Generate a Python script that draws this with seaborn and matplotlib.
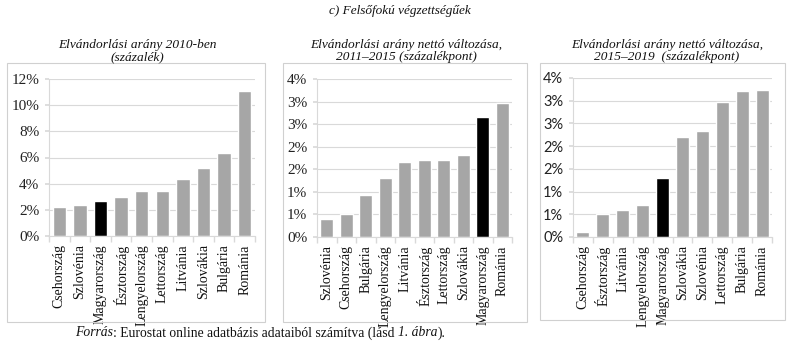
import math
import matplotlib
matplotlib.use("Agg")
import matplotlib.pyplot as plt
import seaborn as sns
import pandas as pd
from matplotlib.patches import Rectangle
from matplotlib.ticker import FuncFormatter, FixedLocator

sns.set_theme(style="white")
plt.rcParams['font.family'] = ['Liberation Serif', 'DejaVu Serif']

# ---- data ----
countries1 = ["Csehország", "Szlovénia", "Magyarország", "Észtország", "Lengyelország",
              "Lettország", "Litvánia", "Szlovákia", "Bulgária", "Románia"]
values1 = [2.25, 2.37, 2.71, 2.96, 3.42, 3.47, 4.34, 5.21, 6.31, 11.08]

countries2 = ["Szlovénia", "Csehország", "Bulgária", "Lengyelország", "Litvánia",
              "Észtország", "Lettország", "Szlovákia", "Magyarország", "Románia"]
values2 = [0.40, 0.51, 0.93, 1.30, 1.67, 1.70, 1.70, 1.81, 2.66, 2.97]

countries3 = ["Csehország", "Észtország", "Litvánia", "Lengyelország", "Magyarország",
              "Szlovákia", "Szlovénia", "Lettország", "Bulgária", "Románia"]
values3 = [0.11, 0.50, 0.60, 0.71, 1.29, 2.20, 2.33, 2.98, 3.22, 3.24]

titles = ["Elvándorlási arány 2010-ben\n(százalék)",
          "Elvándorlási arány nettó változása,\n2011–2015 (százalékpont)",
          "Elvándorlási arány nettó változása,\n2015–2019  (százalékpont)"]
main_title = "c) Felsőfokú végzettségűek"
highlight = "Magyarország"

W, H = 800, 348
fig = plt.figure(figsize=(W / 100, H / 100), dpi=100)
fig.patch.set_facecolor("white")

def fx(x):
    return x / W

def fy(y):
    return 1 - y / H

panels = [
    dict(c=countries1, v=values1, ax=(49, 79, 255, 236), box=(7, 63, 265, 322), tc=137,
         ymax=12, step=2, ytfont=['Liberation Serif'], ytsize=11),
    dict(c=countries2, v=values2, ax=(317, 79, 512, 237), box=(283, 63, 527, 322), tc=406,
         ymax=3.5, step=0.5, ytfont=['Liberation Serif'], ytsize=11),
    dict(c=countries3, v=values3, ax=(573, 78, 772, 237), box=(540, 63, 785, 320), tc=667,
         ymax=3.5, step=0.5, ytfont=['Lato', 'DejaVu Sans'], ytsize=10.5),
]

BAR = "#a6a6a6"
GRID = "#d9d9d9"

for i, p in enumerate(panels):
    bx0, by0, bx1, by1 = p["box"]
    fig.patches.append(Rectangle((fx(bx0), fy(by1)), fx(bx1 - bx0), (by1 - by0) / H,
                                 transform=fig.transFigure, fill=False,
                                 edgecolor="#d0d0d0", linewidth=0.8))
    l, t, r, b = p["ax"]
    ax = fig.add_axes([fx(l), fy(b), fx(r - l), (b - t) / H])
    df = pd.DataFrame({"country": p["c"], "value": p["v"]})
    pal = {c: ("#000000" if c == highlight else BAR) for c in p["c"]}
    sns.barplot(data=df, x="country", y="value", hue="country", palette=pal,
                legend=False, width=0.65, ax=ax, saturation=1, order=p["c"])
    ax.set_xlim(-0.5, len(p["c"]) - 0.5)
    ax.set_ylim(0, p["ymax"])
    n = int(round(p["ymax"] / p["step"]))
    ticks = [k * p["step"] for k in range(n + 1)]
    ax.set_yticks(ticks)
    ax.yaxis.set_major_formatter(FuncFormatter(lambda v, pos: f"{math.floor(v + 0.5 + 1e-9)}%"))
    ax.grid(axis="y", color=GRID, linewidth=0.8)
    ax.set_axisbelow(True)
    ax.set_xlabel("")
    ax.set_ylabel("")
    for s in ["top", "right"]:
        ax.spines[s].set_visible(False)
    ax.spines["left"].set_color(GRID)
    ax.spines["bottom"].set_color(GRID)
    ax.spines["left"].set_linewidth(0.8)
    ax.spines["bottom"].set_linewidth(0.8)
    ax.tick_params(axis="y", which="major", length=3, color=GRID, pad=4,
                   labelsize=p["ytsize"], left=True)
    for lab in ax.get_yticklabels():
        lab.set_family(p["ytfont"])
        lab.set_color("#222222")
    ax.set_xticks(range(len(p["c"])))
    ax.set_xticklabels(p["c"], rotation=90, fontsize=10, color="#111111")
    ax.tick_params(axis="x", which="major", length=0, pad=6, bottom=False)
    ax.xaxis.set_minor_locator(FixedLocator([k + 0.5 for k in range(-1, len(p["c"]))]))
    ax.tick_params(axis="x", which="minor", length=4, color=GRID, bottom=True)
    fig.text(fx(p["tc"]), fy(51), titles[i], ha="center", va="center", fontsize=9.6,
             style="italic", linespacing=1.1, color="#111111")

fig.text(0.5, fy(11), main_title, ha="center", va="center", fontsize=9.5, style="italic",
         color="#111111")

# source line, with mixed styles
pieces = [("Forrás", "italic"), (": Eurostat online adatbázis adataiból számítva (lásd ", "normal"),
          ("1. ábra", "italic"), (").", "normal")]
fig.canvas.draw()
renderer = fig.canvas.get_renderer()
x = 75
for txt, st in pieces:
    t = fig.text(fx(x), fy(333), txt, ha="left", va="center", fontsize=9.8, style=st,
                 color="#111111")
    bb = t.get_window_extent(renderer=renderer)
    x += bb.width

fig.savefig("out.png", dpi=100, facecolor="white")
